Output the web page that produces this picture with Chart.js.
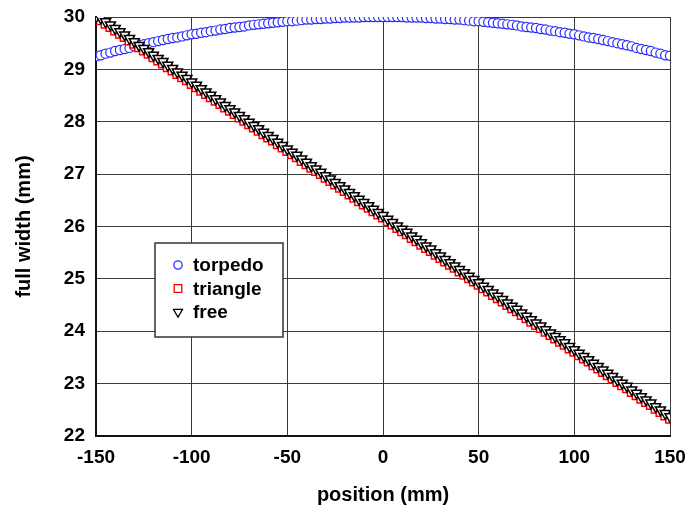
<!DOCTYPE html>
<html>
<head>
<meta charset="utf-8">
<script src="https://cdn.jsdelivr.net/npm/chart.js@4/dist/chart.umd.min.js"></script>
<style>
  body { margin: 0; background: #fff; }
  #wrap { position: relative; width: 685px; height: 510px; }
</style>
</head>
<body>
<div id="wrap"><canvas id="c" width="685" height="510"></canvas></div>
<script>
// positions along the piece (mm)
const positions = [-150,-147.5,-145,-142.5,-140,-137.5,-135,-132.5,-130,-127.5,-125,-122.5,-120,-117.5,-115,-112.5,-110,-107.5,-105,-102.5,-100,-97.5,-95,-92.5,-90,-87.5,-85,-82.5,-80,-77.5,-75,-72.5,-70,-67.5,-65,-62.5,-60,-57.5,-55,-52.5,-50,-47.5,-45,-42.5,-40,-37.5,-35,-32.5,-30,-27.5,-25,-22.5,-20,-17.5,-15,-12.5,-10,-7.5,-5,-2.5,0,2.5,5,7.5,10,12.5,15,17.5,20,22.5,25,27.5,30,32.5,35,37.5,40,42.5,45,47.5,50,52.5,55,57.5,60,62.5,65,67.5,70,72.5,75,77.5,80,82.5,85,87.5,90,92.5,95,97.5,100,102.5,105,107.5,110,112.5,115,117.5,120,122.5,125,127.5,130,132.5,135,137.5,140,142.5,145,147.5,150];

// full width (mm) for each shape
const torpedo = [29.25,29.27,29.30,29.32,29.35,29.37,29.39,29.41,29.44,29.46,29.48,29.50,29.52,29.54,29.56,29.58,29.60,29.61,29.63,29.65,29.67,29.68,29.70,29.71,29.73,29.74,29.76,29.77,29.79,29.80,29.81,29.82,29.84,29.85,29.86,29.87,29.88,29.89,29.90,29.91,29.92,29.92,29.93,29.94,29.95,29.95,29.96,29.96,29.97,29.97,29.98,29.98,29.99,29.99,29.99,29.99,30.00,30.00,30.00,30.00,30.00,
                 30.00,30.00,30.00,30.00,29.99,29.99,29.99,29.99,29.98,29.98,29.97,29.97,29.96,29.96,29.95,29.95,29.94,29.93,29.92,29.92,29.91,29.90,29.89,29.88,29.87,29.86,29.85,29.84,29.82,29.81,29.80,29.79,29.77,29.76,29.74,29.73,29.71,29.70,29.68,29.67,29.65,29.63,29.61,29.60,29.58,29.56,29.54,29.52,29.50,29.48,29.46,29.44,29.41,29.39,29.37,29.35,29.32,29.30,29.27,29.26];
const triangle = [30.00,29.94,29.87,29.81,29.74,29.68,29.62,29.55,29.49,29.42,29.36,29.30,29.23,29.17,29.11,29.04,28.98,28.91,28.85,28.79,28.72,28.66,28.59,28.53,28.47,28.40,28.34,28.27,28.21,28.15,28.08,28.02,27.95,27.89,27.83,27.76,27.70,27.64,27.57,27.51,27.44,27.38,27.32,27.25,27.19,27.12,27.06,27.00,26.93,26.87,26.80,26.74,26.68,26.61,26.55,26.48,26.42,26.36,26.29,26.23,26.17,26.10,26.04,25.97,25.91,25.85,25.78,25.72,25.65,25.59,25.53,25.46,25.40,25.33,25.27,25.21,25.14,25.08,25.01,24.95,24.89,24.82,24.76,24.69,24.63,24.57,24.50,24.44,24.38,24.31,24.25,24.18,24.12,24.06,23.99,23.93,23.86,23.80,23.74,23.67,23.61,23.54,23.48,23.42,23.35,23.29,23.22,23.16,23.10,23.03,22.97,22.91,22.84,22.78,22.71,22.65,22.59,22.52,22.46,22.39,22.33];
const free = [30.00,29.98,29.91,29.85,29.78,29.72,29.66,29.59,29.53,29.46,29.40,29.34,29.27,29.21,29.15,29.08,29.02,28.95,28.89,28.83,28.76,28.70,28.63,28.57,28.51,28.44,28.38,28.31,28.25,28.19,28.12,28.06,27.99,27.93,27.87,27.80,27.74,27.68,27.61,27.55,27.48,27.42,27.36,27.29,27.23,27.16,27.10,27.04,26.97,26.91,26.84,26.78,26.72,26.65,26.59,26.52,26.46,26.40,26.33,26.27,26.21,26.14,26.08,26.01,25.95,25.89,25.82,25.76,25.69,25.63,25.57,25.50,25.44,25.37,25.31,25.25,25.18,25.12,25.05,24.99,24.93,24.86,24.80,24.73,24.67,24.61,24.54,24.48,24.42,24.35,24.29,24.22,24.16,24.10,24.03,23.97,23.90,23.84,23.78,23.71,23.65,23.58,23.52,23.46,23.39,23.33,23.26,23.20,23.14,23.07,23.01,22.95,22.88,22.82,22.75,22.69,22.63,22.56,22.50,22.43,22.37];

const seriesNames = ['torpedo', 'triangle', 'free'];
const xTicks = [-150, -100, -50, 0, 50, 100, 150];
const yTicks = [22, 23, 24, 25, 26, 27, 28, 29, 30];

const FONT = '"Liberation Sans", Arial, sans-serif';

function pts(arr) {
    return positions.map((x, i) => ({ x: x, y: arr[i] }));
}

const styles = [
    { color: '#2a2aff', pointStyle: 'circle', radius: 4.6, rotation: 0, bw: 1.2 },
    { color: '#ff0000', pointStyle: 'rect', radius: 6, rotation: 0, bw: 1.5 },
    { color: '#000000', pointStyle: 'triangle', radius: 5.8, rotation: 180, bw: 1.5 }
];

const datasets = [torpedo, triangle, free].map((arr, i) => ({
    label: seriesNames[i],
    data: pts(arr),
    showLine: false,
    pointStyle: styles[i].pointStyle,
    pointRotation: styles[i].rotation,
    pointRadius: styles[i].radius,
    pointBorderWidth: styles[i].bw,
    pointBorderColor: styles[i].color,
    pointBackgroundColor: '#ffffff',
    order: 2 - i
}));

// legend box drawn inside the plot
const boxLegend = {
    id: 'boxLegend',
    afterDraw(chart) {
        const ctx = chart.ctx;
        ctx.save();
        ctx.fillStyle = '#ffffff';
        ctx.fillRect(155, 243, 128, 94);
        ctx.strokeStyle = '#333';
        ctx.lineWidth = 1.5;
        ctx.strokeRect(155, 243, 128, 94);
        ctx.font = 'bold 19px ' + FONT;
        ctx.textBaseline = 'middle';
        seriesNames.forEach((name, i) => {
            const y = 265 + i * 23.5;
            ctx.fillStyle = '#ffffff';
            ctx.strokeStyle = styles[i].color;
            ctx.lineWidth = 1.3;
            Chart.helpers.drawPoint(ctx, {
                pointStyle: styles[i].pointStyle,
                rotation: styles[i].rotation,
                radius: styles[i].radius * 0.9,
                borderWidth: 1.3
            }, 178, y);
            ctx.fillStyle = '#000';
            ctx.fillText(name, 193, y + 1);
        });
        ctx.restore();
    }
};

// no automatic room for overhanging tick labels
function noOverhang(s) {
    s.paddingLeft = 0;
    s.paddingRight = 0;
    s.paddingTop = 0;
    s.paddingBottom = 0;
}

new Chart(document.getElementById('c'), {
    type: 'scatter',
    data: { datasets: datasets },
    plugins: [boxLegend],
    options: {
        responsive: false,
        animation: false,
        layout: { padding: { top: 17, right: 15, left: 0, bottom: 0 } },
        plugins: { legend: { display: false }, tooltip: { enabled: false } },
        scales: {
            x: {
                type: 'linear',
                min: -150, max: 150,
                afterBuildTicks: s => { s.ticks = xTicks.map(v => ({ value: v })); },
                afterFit: s => { s.height = 74; noOverhang(s); },
                grid: { color: '#3a3a3a', lineWidth: 1, drawTicks: false },
                border: { color: '#111', width: 2 },
                ticks: { color: '#000', padding: 10, font: { family: FONT, size: 19, weight: 'bold' } },
                title: {
                    display: true, text: 'position (mm)', color: '#000',
                    font: { family: FONT, size: 20, weight: 'bold' },
                    padding: { top: 0, bottom: 3 }
                }
            },
            y: {
                type: 'linear',
                min: 22, max: 30,
                afterBuildTicks: s => { s.ticks = yTicks.map(v => ({ value: v })); },
                afterFit: s => { s.width = 96; noOverhang(s); },
                grid: { color: '#3a3a3a', lineWidth: 1, drawTicks: false },
                border: { color: '#111', width: 2 },
                ticks: { color: '#000', padding: 11, font: { family: FONT, size: 19, weight: 'bold' } },
                title: {
                    display: true, text: 'full width (mm)', color: '#000',
                    font: { family: FONT, size: 20, weight: 'bold' },
                    padding: { top: 12, bottom: 0 }
                }
            }
        }
    }
});
</script>
</body>
</html>
